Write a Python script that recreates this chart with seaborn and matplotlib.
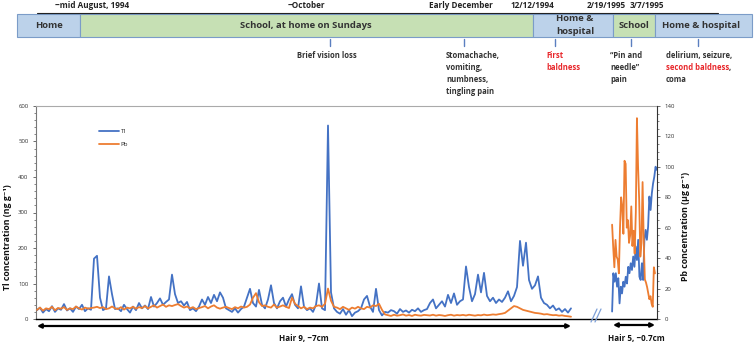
import numpy as np
import matplotlib
matplotlib.use("Agg")
import matplotlib.pyplot as plt
import seaborn as sns
from matplotlib.patches import Rectangle
from matplotlib.lines import Line2D
from matplotlib.ticker import MultipleLocator

# ---------------- data ----------------
# Tl in hair 9 (ng/g), sequential samples along ~7 cm of hair
tl_hair9 = [25, 32, 18, 28, 22, 36, 20, 30, 26, 42, 24, 30, 20, 35, 28, 40, 22, 30, 26,
            170, 178, 60, 25, 30, 120, 70, 28,
            30, 22, 40, 28, 18, 35, 25, 45, 30, 38, 28,
            62, 35, 45, 58, 40, 48, 55, 125, 70,
            45, 50, 38, 48, 25, 30, 22, 35,
            55, 40, 62, 45, 68, 50, 75, 60, 30, 25, 20, 30, 18, 28, 35,
            60, 85, 45, 35, 82, 40, 30, 55, 95, 45,
            30, 50, 60, 35, 55, 70, 40, 30, 92, 35, 25, 30, 20, 40,
            100, 30, 25, 545, 75, 30,
            20, 15, 28, 12, 25, 8, 18, 22, 30, 55, 65, 35, 20, 85, 25, 10,
            20, 18, 25, 22, 15, 28, 20, 24, 18, 26, 22, 30, 20, 25, 28,
            45, 55, 30, 40, 50, 35, 68, 45, 72, 40, 50, 55, 148, 90, 50, 70, 125, 75, 130,
            65, 50, 60, 45, 55,
            48, 60, 78, 50, 65, 90, 220, 150, 215, 110, 85, 95, 120, 60, 45, 40, 30, 38,
            25, 30, 20, 28, 18, 30]

# Pb in hair 9 (ug/g)
pb_hair9 = [6, 7.5, 5.5, 7, 6.5, 8, 5.8, 7.2, 6.8, 7.8, 6, 7, 6.5, 8.2, 7, 6.2, 7.5, 6.8, 7.2,
            7.5, 8, 7.2, 7.8, 6.5, 7, 8.2, 7,
            6.5, 7.8, 6.2, 7.5, 7, 8, 6.8, 7.8, 7.2, 8.5, 7,
            8, 9, 7.5, 8.5, 9.5, 8, 9, 8.5, 9.2,
            9.8, 8.5, 7.5, 8.2, 7, 7.8, 6.5, 7.2,
            7.8, 8.5, 7, 8.2, 9, 7.5, 6.8, 7.5, 8, 7.2, 6.5, 7.8, 7, 8.2, 7.5,
            8, 9.5, 14, 17, 11, 8.5, 9, 8, 7.5, 9.5,
            7.5, 8.2, 9, 8, 7.2, 14, 10, 8.5, 7, 8, 6.5, 7.5, 7, 8.5,
            9, 8, 10, 20, 12, 8,
            7.5, 6.5, 8, 7, 6, 7.5, 6.8, 8, 7, 6.5, 8, 7.5, 9, 8.5, 10, 6,
            3, 2.5, 2, 2.8, 2.2, 2.5, 3, 2.2, 2.6, 2, 2.8, 2.4, 2.2, 2.7, 2.5,
            2.3, 2.8, 2.2, 2.6, 2.4, 2, 2.5, 2.8, 2.2, 2.6, 2.4, 2.7, 2.3, 2.8, 2.5,
            2.2, 2.6, 2.4, 2.9, 2.5, 2.7, 3, 2.8, 3.2, 3.5,
            4, 5.5, 7, 8.5, 8, 7, 6, 5.5, 5, 4.5, 4, 3.8, 3.5, 3, 3.2, 2.8, 2.5, 2.6,
            2.2, 2.4, 2, 1.8, 1.5]

# Tl in hair 5 (ng/g)
tl_hair5 = [21, 129, 105, 129, 91, 115, 44, 91, 72, 105, 91, 119, 100, 147, 129, 157,
            138, 176, 147, 204, 166, 223, 119, 110, 157, 110, 223, 251, 223, 260, 345,
            307, 354, 382, 401, 429, 420]

# Pb in hair 5 (ug/g)
pb_hair5 = [62, 47, 34, 52, 41, 39, 30, 60, 80, 74, 56, 104, 102, 60, 65, 50, 55, 74, 48,
            58, 43, 70, 132, 100, 78, 41, 50, 90, 52, 26, 24, 21, 17, 13, 15, 10, 8, 34, 30]

# timeline
period_labels = ["Home", "School, at home on Sundays", "Home &\nhospital", "School", "Home & hospital"]
period_kinds = ["home", "school", "home", "school", "home"]
date_labels = ["~mid August, 1994", "~October", "Early December", "12/12/1994", "2/19/1995", "3/7/1995"]

BLUE = "#4472C4"
ORANGE = "#ED7D31"

# ---------------- style ----------------
sns.set_style("white")
plt.rcParams["font.family"] = ["Open Sans", "DejaVu Sans"]

fig = plt.figure(figsize=(7.55, 3.43), dpi=100)
W, H = 755, 343

# main axes (pixel layout)
ax = fig.add_axes([36 / W, 24 / H, 621 / W, 213 / H])
ax.set_xlim(-1 / 3, 620 / 3)
ax.set_ylim(0, 600)
ax2 = ax.twinx()
ax2.set_ylim(0, 140)

x9 = np.arange(len(tl_hair9))
x9pb = np.arange(len(pb_hair9))
x5_tl = np.linspace(191.7, 206.6, len(tl_hair5))
x5_pb = np.linspace(191.7, 206.0, len(pb_hair5))

sns.lineplot(x=x9, y=tl_hair9, ax=ax, color=BLUE, lw=1.3, legend=False)
sns.lineplot(x=x5_tl, y=tl_hair5, ax=ax, color=BLUE, lw=1.3, legend=False)
sns.lineplot(x=x9pb, y=pb_hair9, ax=ax2, color=ORANGE, lw=1.3, legend=False)
sns.lineplot(x=x5_pb, y=pb_hair5, ax=ax2, color=ORANGE, lw=1.3, legend=False)

ax.set_xticks([])
ax.set_yticks(np.arange(0, 601, 100))
ax.yaxis.set_minor_locator(MultipleLocator(20))
ax2.set_yticks(np.arange(0, 141, 20))
ax2.yaxis.set_minor_locator(MultipleLocator(5))
for a in (ax, ax2):
    a.tick_params(axis="y", which="major", labelsize=4.3, length=2.5, width=0.6,
                  pad=3, labelcolor="#333333", color="#555555")
    a.tick_params(axis="y", which="minor", length=1.5, width=0.5, color="#555555")
    a.set_xlabel("")
    a.set_ylabel("")
ax.tick_params(axis="y", which="both", left=True, right=False)
ax2.tick_params(axis="y", which="both", right=True, left=False)

ax.spines["top"].set_color("#aaaaaa")
ax.spines["top"].set_linewidth(0.8)
ax.spines["left"].set_color("#777777")
ax.spines["left"].set_linewidth(0.8)
ax.spines["bottom"].set_color("black")
ax.spines["bottom"].set_linewidth(1.0)
ax.spines["right"].set_visible(False)
for s in ("left", "top", "bottom"):
    ax2.spines[s].set_visible(False)
ax2.spines["right"].set_color("#333333")
ax2.spines["right"].set_linewidth(0.8)

# legend
handles = [Line2D([], [], color=BLUE, lw=1.3, label="Tl"),
           Line2D([], [], color=ORANGE, lw=1.3, label="Pb")]
ax.legend(handles=handles, loc="upper left",
          bbox_to_anchor=((93 - 36) / 621, 1 - (123 - 106) / 213),
          frameon=False, fontsize=4.5, handlelength=3.2, handletextpad=0.3,
          labelspacing=1.3)

# ---------------- overlay (pixel coords) ----------------
ov = fig.add_axes([0, 0, 1, 1], zorder=10)
ov.set_xlim(0, W)
ov.set_ylim(H, 0)
ov.axis("off")
ov.patch.set_alpha(0)

# axis titles
ov.text(8, 237, "Tl concentration (ng g\u207b\u00b9)", rotation=90, ha="center", va="center",
        fontsize=6.3, fontweight="bold", color="#111111")
ov.text(686, 226, "Pb concentration (\u00b5g g\u207b\u00b9)", rotation=90, ha="center", va="center",
        fontsize=6.3, fontweight="bold", color="#111111")

# break marks
ov.plot([591, 597], [322, 309], color="#7DA0D8", lw=0.9)
ov.plot([595, 601], [322, 309], color="#7DA0D8", lw=0.9)

# hair arrows
arrow_kw = dict(arrowstyle="<|-|>", mutation_scale=6, lw=1.6, color="black",
                shrinkA=0, shrinkB=0)
ov.annotate("", xy=(571, 326), xytext=(37, 326), arrowprops=arrow_kw)
ov.annotate("", xy=(655, 325), xytext=(613, 325), arrowprops=arrow_kw)
ov.text(304, 338, "Hair 9, ~7cm", ha="center", va="center", fontsize=5.8,
        fontweight="bold", color="#111111")
ov.text(636, 338, "Hair 5, ~0.7cm", ha="center", va="center", fontsize=5.8,
        fontweight="bold", color="#111111")

# timeline boxes
bounds = [17, 80, 533, 613, 655, 752]
centers = [48.5, 306, 575, 634, 701]
fills = {"home": "#BCD2EA", "school": "#C6E0B4"}
for i, (lab, kind) in enumerate(zip(period_labels, period_kinds)):
    ov.add_patch(Rectangle((bounds[i], 13.5), bounds[i + 1] - bounds[i], 23.5,
                           facecolor=fills[kind], edgecolor="#7B9CC8", lw=0.8))
    if "\n" in lab:
        l1, l2 = lab.split("\n")
        ov.text(centers[i], 18.5, l1, ha="center", va="center", fontsize=6.8,
                fontweight="bold", color="#333333")
        ov.text(centers[i], 31.5, l2, ha="center", va="center", fontsize=6.8,
                fontweight="bold", color="#333333")
    else:
        ov.text(centers[i], 25.5, lab, ha="center", va="center", fontsize=6.8,
                fontweight="bold", color="#333333")
ov.plot([37, 718], [12.5, 12.5], color="#222222", lw=0.8)

date_x = [92, 306, 461, 532, 606, 647]
for lab, xc in zip(date_labels, date_x):
    ov.text(xc, 5, lab, ha="center", va="center", fontsize=5.9, fontweight="bold",
            color="#222222")

# event ticks
for xe in [330, 464, 555, 631, 698]:
    ov.plot([xe, xe], [39, 46], color="#5B7FC0", lw=1.0)

ann_kw = dict(ha="left", va="baseline", fontsize=5.5, fontweight="bold")
DARK = "#333333"
RED = "#E8262A"
ov.text(327, 58, "Brief vision loss", ha="center", va="baseline", fontsize=5.5,
        fontweight="bold", color=DARK)
for j, l in enumerate(["Stomachache,", "vomiting,", "numbness,", "tingling pain"]):
    ov.text(446, 58 + 12 * j, l, color=DARK, **ann_kw)
for j, l in enumerate(["First", "baldness"]):
    ov.text(546, 58 + 12 * j, l, color=RED, **ann_kw)
for j, l in enumerate(["\u201cPin and", "needle\u201d", "pain"]):
    ov.text(610, 58 + 12 * j, l, color=DARK, **ann_kw)
ov.text(666, 58, "delirium, seizure,", color=DARK, **ann_kw)
red_txt = ov.text(666, 70, "second baldness", color=RED, **ann_kw)
ov.text(666, 82, "coma", color=DARK, **ann_kw)

# comma right after the red text
fig.canvas.draw()
bb = red_txt.get_window_extent(renderer=fig.canvas.get_renderer())
x_end = ov.transData.inverted().transform((bb.x1, bb.y0))[0]
ov.text(x_end, 70, ",", color=DARK, **ann_kw)

fig.savefig("out.png", dpi=100)
